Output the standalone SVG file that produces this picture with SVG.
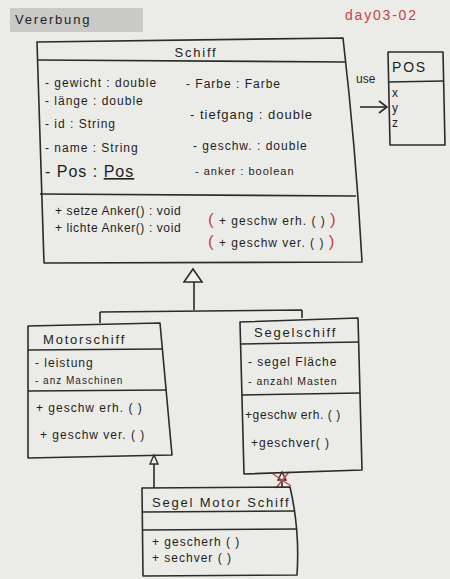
<svg xmlns="http://www.w3.org/2000/svg" width="450" height="579" viewBox="0 0 450 579">
<defs>
<style>
.box{fill:none;stroke:#2b2b2b;stroke-width:1.6;stroke-linejoin:round}
.ln{fill:none;stroke:#2b2b2b;stroke-width:1.6}
.t{font-family:"Liberation Sans",Arial,sans-serif;fill:#1e1e1e;font-size:12px;letter-spacing:1px}
.h{font-family:"Liberation Sans",Arial,sans-serif;fill:#1e1e1e;font-size:13px;letter-spacing:1.8px}
.red{fill:#c8434a}
</style>
</defs>
<rect x="0" y="0" width="450" height="579" fill="#ebebe8"/>
<g id="title">
<rect x="10" y="8" width="133" height="24" fill="#c9c9c7"/>
<text class="h" x="15" y="24" style="font-size:13px">Vererbung</text>
<text class="h red" x="345" y="20" style="font-size:14px;fill:#c8434a">day03-02</text>
</g>
<g id="connectors">
<path class="ln" d="M360,107 L386,107"/>
<path class="ln" d="M379,101 L387,107 L379,113"/>
<text class="t" x="356" y="83" style="letter-spacing:0">use</text>
<path d="M193,269 L202,282 L184,282 Z" fill="#f2f2ef" stroke="#2b2b2b" stroke-width="1.6"/>
<path class="ln" d="M194,282 L194,310 M100,312 L302,310 M100,312 L100,323 M302,310 L302,318"/>
<path class="ln" d="M154,488 L154,462"/>
<path d="M154,455 L158,464 L150,464 Z" fill="#f2f2ef" stroke="#2b2b2b" stroke-width="1.4"/>
<path class="ln" d="M282,488 L282,479"/>
<path d="M282,472 L286,480 L278,480 Z" fill="#f2f2ef" stroke="#2b2b2b" stroke-width="1.4"/>
<path d="M273,474 L291,486 M289,472 L276,488" stroke="#c8434a" stroke-width="1.5" fill="none"/>
</g>
<g id="Schiff">
<path class="box" d="M37,42 L343,38 Q356,150 362,262 L44,263 Z"/>
<path class="ln" d="M37,60 L346,62"/>
<path class="ln" d="M40,194 L356,196"/>
<text class="h" x="196" y="57" text-anchor="middle">Schiff</text>
<text class="t" x="45" y="87">- gewicht : double</text>
<text class="t" x="45" y="105">- länge : double</text>
<text class="t" x="45" y="128">- id : String</text>
<text class="t" x="45" y="152">- name : String</text>
<text class="t" x="45" y="177" style="font-size:16px">- Pos : <tspan text-decoration="underline">Pos</tspan></text>
<text class="t" x="186" y="88">- Farbe : Farbe</text>
<text class="t" x="190" y="119" style="font-size:13px">- tiefgang : double</text>
<text class="t" x="193" y="150">- geschw. : double</text>
<text class="t" x="195" y="175" style="font-size:11px">- anker : boolean</text>
<text class="t" x="55" y="215" style="letter-spacing:0.6px">+ setze Anker() : void</text>
<text class="t" x="55" y="232" style="letter-spacing:0.6px">+ lichte Anker() : void</text>
<text class="t" x="208" y="225"><tspan class="red" style="font-size:17px">(</tspan> + geschw erh. ( ) <tspan class="red" style="font-size:17px">)</tspan></text>
<text class="t" x="208" y="247"><tspan class="red" style="font-size:17px">(</tspan> + geschw ver. ( ) <tspan class="red" style="font-size:17px">)</tspan></text>
</g>
<g id="Pos">
<path class="box" d="M388,52 L443,52 L445,145 L390,145 Z"/>
<path class="ln" d="M388,82 L444,81"/>
<text class="h" x="392" y="72" style="font-size:14px">POS</text>
<text class="t" x="392" y="97">x</text>
<text class="t" x="392" y="112">y</text>
<text class="t" x="392" y="127">z</text>
</g>
<g id="Motorschiff">
<path class="box" d="M28,326 L160,323 L172,455 L28,458 Z"/>
<path class="ln" d="M28,350 L163,349"/>
<path class="ln" d="M28,391 L167,390"/>
<text class="h" x="43" y="344">Motorschiff</text>
<text class="t" x="35" y="367">- leistung</text>
<text class="t" x="35" y="384" style="font-size:10px">- anz Maschinen</text>
<text class="t" x="36" y="412">+ geschw erh. ( )</text>
<text class="t" x="40" y="439">+ geschw ver. ( )</text>
</g>
<g id="Segelschiff">
<path class="box" d="M240,322 L358,318 L362,470 L244,474 Z"/>
<path class="ln" d="M240,344 L359,342"/>
<path class="ln" d="M241,395 L360,393"/>
<text class="h" x="254" y="337">Segelschiff</text>
<text class="t" x="248" y="366">- segel Fläche</text>
<text class="t" x="248" y="385" style="font-size:10.5px">- anzahl Masten</text>
<text class="t" x="245" y="419" style="letter-spacing:0.6px">+geschw erh. ( )</text>
<text class="t" x="251" y="447">+geschver( )</text>
</g>
<g id="SegelMotorSchiff">
<path class="box" d="M142,488 L290,487 Q300,530 297,575 L143,576 Z"/>
<path class="ln" d="M143,512 L295,511"/>
<path class="ln" d="M143,530 L297,529"/>
<text class="h" x="152" y="507">Segel  Motor Schiff</text>
<text class="t" x="152" y="546">+ gescherh ( )</text>
<text class="t" x="152" y="562">+ sechver ( )</text>
</g>
</svg>
